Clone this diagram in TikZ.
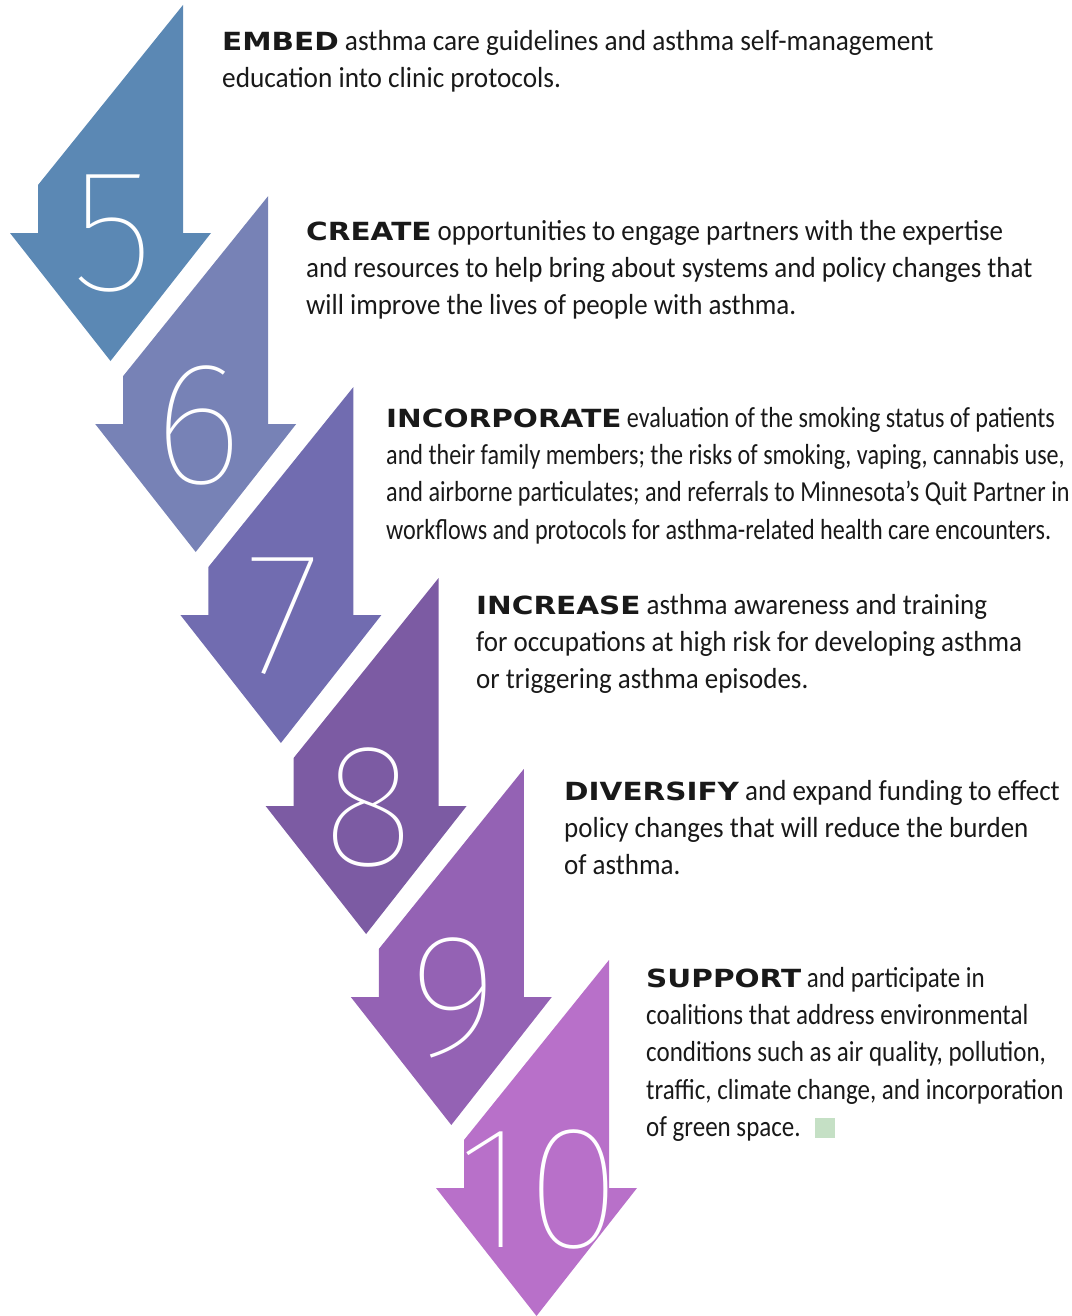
\documentclass[tikz,border=0pt]{standalone}
\usepackage{fontspec}
\setmainfont{Carlito}
\newfontfamily\headfont{DejaVu Sans Bold}[FakeStretch=1.18]
\IfFontExistsTF{Fira Sans Thin}{\newfontfamily\numfont{Fira Sans Thin}}{%
	\IfFontExistsTF{Lato Hairline}{\newfontfamily\numfont{Lato Hairline}}{%
		\newfontfamily\numfont{DejaVu Sans ExtraLight}}}
\usetikzlibrary{positioning}

\definecolor{tone5}{HTML}{5B88B4}
\definecolor{tone6}{HTML}{7782B6}
\definecolor{tone7}{HTML}{716CB0}
\definecolor{tone8}{HTML}{7C5BA3}
\definecolor{tone9}{HTML}{9462B4}
\definecolor{tone10}{HTML}{B870C9}
\definecolor{leafgreen}{HTML}{C5E0C5}

\newcommand{\head}[1]{{\headfont\fontsize{25}{37.3}\selectfont #1}}

\begin{document}
\begin{tikzpicture}[
			x=1pt, y=-1pt,
			digit/.style={text=white, font=\numfont\fontsize{175}{175}\selectfont, inner sep=0pt},
			note/.style={anchor=north west, align=left, inner sep=0pt, text=black!90,
				font=\addfontfeature{FakeStretch=#1}\fontsize{29}{37.3}\selectfont},
			note/.default=1
			]
			\useasboundingbox (0,0) rectangle (1071,1316);
			
			% Arrows 5 to 10
			\foreach \n/\col [count=\i from 0] in {5/tone5, 6/tone6, 7/tone7, 8/tone8, 9/tone9, 10/tone10}{
				\coordinate (t\n) at (183+\i*85.2, 5+\i*191);
				\fill[\col] (t\n) -- ++(0,228) -- ++(28,0) -- ++(-100.5,128) -- ++(-100.5,-128)
					-- ++(28,0) -- ++(0,-48) -- cycle;
				\node[digit] (d\n) at ([shift={(-70,229)}]t\n) {\n};
			}
			
			% Texts
			\node[note=0.94] (embed) at (222,30) {\head{EMBED} asthma care guidelines and asthma self-management\\
				education into clinic protocols.};
			\node[note=0.93] (create) at (306,220) {\head{CREATE} opportunities to engage partners with the expertise\\
				and resources to help bring about systems and policy changes that\\
				will improve the lives of people with asthma.};
			\node[note=0.832] (incorporate) at (386,407) {\head{INCORPORATE} evaluation of the smoking status of patients\\
				and their family members; the risks of smoking, vaping, cannabis use,\\
				and airborne particulates; and referrals to Minnesota’s Quit Partner in\\
				workflows and protocols for asthma-related health care encounters.};
			\node[note=0.93] (increase) at (476,594) {\head{INCREASE} asthma awareness and training\\
				for occupations at high risk for developing asthma\\
				or triggering asthma episodes.};
			\node[note=0.93] (diversify) at (564,780) {\head{DIVERSIFY} and expand funding to effect\\
				policy changes that will reduce the burden\\
				of asthma.};
			\node[note=0.862] (support) at (646,967) {\head{SUPPORT} and participate in\\
				coalitions that address environmental\\
				conditions such as air quality, pollution,\\
				traffic, climate change, and incorporation\\
				of green space.};
			
			% End mark
			\node[fill=leafgreen, minimum size=20pt, inner sep=0pt] (endmark) at (825,1128) {};
			
		\end{tikzpicture}
\end{document}
